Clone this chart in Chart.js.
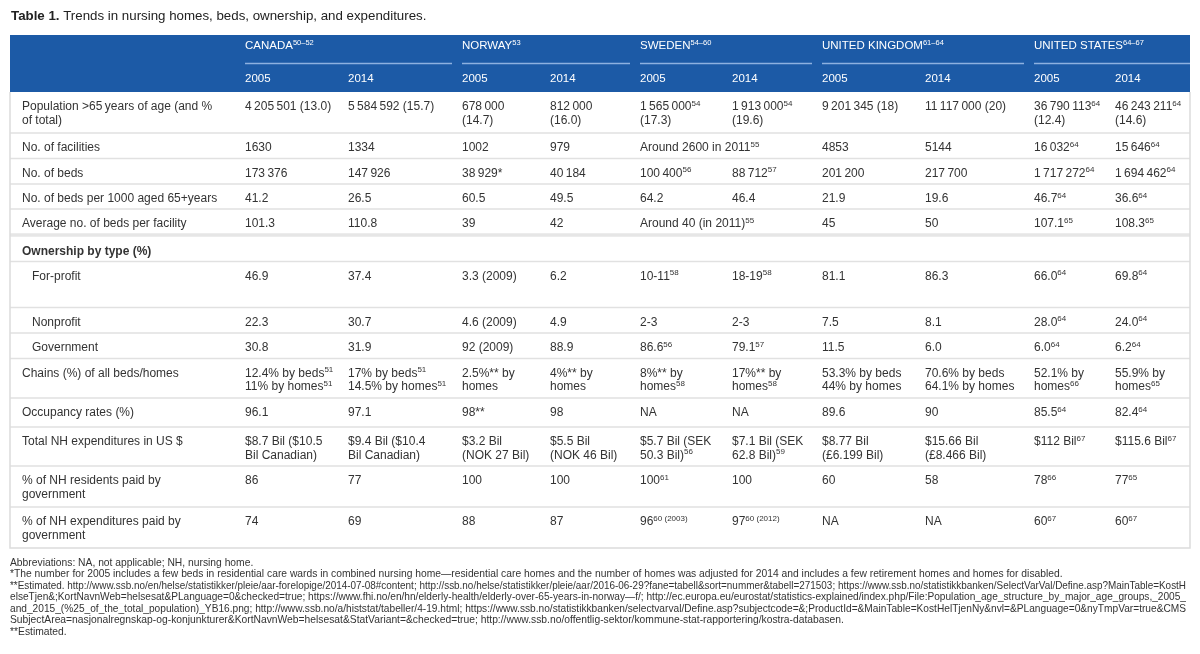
<!DOCTYPE html>
<html>
<head>
<meta charset="utf-8">
<script src="https://cdn.jsdelivr.net/npm/chart.js@4.4.1/dist/chart.umd.min.js"></script>
<style>
  html, body { margin: 0; padding: 0; background: #fff; }
  #wrap { width: 1200px; height: 654px; }
</style>
</head>
<body>
<div id="wrap"><canvas id="tbl" width="1200" height="654"></canvas></div>
<script>
// ---- data (read from the table) ----
// {..} marks a superscript reference
const title = ['Table 1.', 'Trends in nursing homes, beds, ownership, and expenditures.'];
const countries = ['CANADA{50–52}', 'NORWAY{53}', 'SWEDEN{54–60}', 'UNITED KINGDOM{61–64}', 'UNITED STATES{64–67}'];
const years = ['2005', '2014'];

const rowLabels = [
  'Population >65\u2009years of age (and %\nof total)',
  'No. of facilities',
  'No. of beds',
  'No. of beds per 1000 aged 65+years',
  'Average no. of beds per facility',
  'Ownership by type (%)',
  'For-profit',
  'Nonprofit',
  'Government',
  'Chains (%) of all beds/homes',
  'Occupancy rates (%)',
  'Total NH expenditures in US $',
  '% of NH residents paid by\ngovernment',
  '% of NH expenditures paid by\ngovernment'
];

const canada2005 = ['4\u2009205\u2009501 (13.0)', '1630', '173\u2009376', '41.2', '101.3', '', '46.9', '22.3', '30.8',
  '12.4% by beds{51}\n11% by homes{51}', '96.1', '$8.7 Bil ($10.5\nBil Canadian)', '86', '74'];
const canada2014 = ['5\u2009584\u2009592 (15.7)', '1334', '147\u2009926', '26.5', '110.8', '', '37.4', '30.7', '31.9',
  '17% by beds{51}\n14.5% by homes{51}', '97.1', '$9.4 Bil ($10.4\nBil Canadian)', '77', '69'];
const norway2005 = ['678\u2009000\n(14.7)', '1002', '38\u2009929*', '60.5', '39', '', '3.3 (2009)', '4.6 (2009)', '92 (2009)',
  '2.5%** by\nhomes', '98**', '$3.2 Bil\n(NOK 27 Bil)', '100', '88'];
const norway2014 = ['812\u2009000\n(16.0)', '979', '40\u2009184', '49.5', '42', '', '6.2', '4.9', '88.9',
  '4%** by\nhomes', '98', '$5.5 Bil\n(NOK 46 Bil)', '100', '87'];
const sweden2005 = ['1\u2009565\u2009000{54}\n(17.3)', 'Around 2600 in 2011{55}', '100\u2009400{56}', '64.2', 'Around 40 (in 2011){55}', '',
  '10-11{58}', '2-3', '86.6{56}', '8%** by\nhomes{58}', 'NA', '$5.7 Bil (SEK\n50.3 Bil){56}', '100{61}', '96{60 (2003)}'];
const sweden2014 = ['1\u2009913\u2009000{54}\n(19.6)', '', '88\u2009712{57}', '46.4', '', '',
  '18-19{58}', '2-3', '79.1{57}', '17%** by\nhomes{58}', 'NA', '$7.1 Bil (SEK\n62.8 Bil){59}', '100', '97{60 (2012)}'];
const uk2005 = ['9\u2009201\u2009345 (18)', '4853', '201\u2009200', '21.9', '45', '', '81.1', '7.5', '11.5',
  '53.3% by beds\n44% by homes', '89.6', '$8.77 Bil\n(£6.199 Bil)', '60', 'NA'];
const uk2014 = ['11\u2009117\u2009000 (20)', '5144', '217\u2009700', '19.6', '50', '', '86.3', '8.1', '6.0',
  '70.6% by beds\n64.1% by homes', '90', '$15.66 Bil\n(£8.466 Bil)', '58', 'NA'];
const us2005 = ['36\u2009790\u2009113{64}\n(12.4)', '16\u2009032{64}', '1\u2009717\u2009272{64}', '46.7{64}', '107.1{65}', '',
  '66.0{64}', '28.0{64}', '6.0{64}', '52.1% by\nhomes{66}', '85.5{64}', '$112 Bil{67}', '78{66}', '60{67}'];
const us2014 = ['46\u2009243\u2009211{64}\n(14.6)', '15\u2009646{64}', '1\u2009694\u2009462{64}', '36.6{64}', '108.3{65}', '',
  '69.8{64}', '24.0{64}', '6.2{64}', '55.9% by\nhomes{65}', '82.4{64}', '$115.6 Bil{67}', '77{65}', '60{67}'];

const columns = [canada2005, canada2014, norway2005, norway2014, sweden2005, sweden2014, uk2005, uk2014, us2005, us2014];

const footnotes = [
  'Abbreviations: NA, not applicable; NH, nursing home.',
  '*The number for 2005 includes a few beds in residential care wards in combined nursing home—residential care homes and the number of homes was adjusted for 2014 and includes a few retirement homes and homes for disabled.',
  '**Estimated. http://www.ssb.no/en/helse/statistikker/pleie/aar-forelopige/2014-07-08#content; http://ssb.no/helse/statistikker/pleie/aar/2016-06-29?fane=tabell&sort=nummer&tabell=271503; https://www.ssb.no/statistikkbanken/SelectVarVal/Define.asp?MainTable=KostH',
  'elseTjen&;KortNavnWeb=helsesat&PLanguage=0&checked=true; https://www.fhi.no/en/hn/elderly-health/elderly-over-65-years-in-norway—f/; http://ec.europa.eu/eurostat/statistics-explained/index.php/File:Population_age_structure_by_major_age_groups,_2005_',
  'and_2015_(%25_of_the_total_population)_YB16.png; http://www.ssb.no/a/histstat/tabeller/4-19.html; https://www.ssb.no/statistikkbanken/selectvarval/Define.asp?subjectcode=&;ProductId=&MainTable=KostHelTjenNy&nvl=&PLanguage=0&nyTmpVar=true&CMS',
  'SubjectArea=nasjonalregnskap-og-konjunkturer&KortNavnWeb=helsesat&StatVariant=&checked=true; http://www.ssb.no/offentlig-sektor/kommune-stat-rapportering/kostra-databasen.',
  '**Estimated.'
];

// ---- layout (in scale units, 1 unit ~ 1px) ----
const FONT = '"Liberation Sans", Arial, Helvetica, sans-serif';
const tableLeft = 10, tableRight = 1190;
const headTop = 35, headBottom = 92, countryY = 45, ruleY = 63.5, yearY = 77.5;
const labelX = 22, subLabelX = 32;
const colX = [245, 348, 462, 550, 640, 732, 822, 925, 1034, 1115];
const rowTops = [92, 133, 158.5, 184, 209, 237, 261.5, 307.5, 333, 358.5, 398, 427, 466, 507];
const thickRule = 235;
const tableBottom = 548;
const subRows = [6, 7, 8], boldRows = [5];
const footTop = 562, footStep = 11.5;

// draw text with {sup} parts, y = middle of the line
function richText(ctx, str, x, y, size, color, weight, supSize) {
  const parts = str.split(/(\{[^}]*\})/);
  let cx = x;
  ctx.fillStyle = color;
  ctx.textBaseline = 'alphabetic';
  const base = y + size * 0.36;
  parts.forEach(p => {
    if (!p) return;
    if (p[0] === '{') {
      const t = p.slice(1, -1);
      ctx.font = `${weight} ${supSize}px ${FONT}`;
      ctx.fillText(t, cx, base - size * 0.38);
      cx += ctx.measureText(t).width;
    } else {
      ctx.font = `${weight} ${size}px ${FONT}`;
      ctx.fillText(p, cx, base);
      cx += ctx.measureText(p).width;
    }
  });
}

const tablePlugin = {
  id: 'tablePlugin',
  afterDraw(chart) {
    const ctx = chart.ctx;
    const X = v => chart.scales.x.getPixelForValue(v);
    const Y = v => chart.scales.y.getPixelForValue(v);
    ctx.save();

    // title
    ctx.textBaseline = 'alphabetic';
    ctx.fillStyle = '#222';
    ctx.font = `bold 13.3px ${FONT}`;
    ctx.fillText(title[0], X(11), Y(20));
    const w0 = ctx.measureText(title[0] + ' ').width;
    ctx.font = `13.3px ${FONT}`;
    ctx.fillText(title[1], X(11) + w0, Y(20));

    // header band
    ctx.fillStyle = '#1c5aa6';
    ctx.fillRect(X(tableLeft), Y(headTop), X(tableRight) - X(tableLeft), Y(headBottom) - Y(headTop));
    countries.forEach((c, i) => {
      richText(ctx, c, X(colX[i * 2]), Y(countryY), 11.5, '#fff', 'normal', 7.5);
      const end = i < countries.length - 1 ? colX[i * 2 + 2] - 10 : tableRight;
      ctx.strokeStyle = '#8db1e0';
      ctx.lineWidth = 1.5;
      ctx.beginPath();
      ctx.moveTo(X(colX[i * 2]), Y(ruleY));
      ctx.lineTo(X(end), Y(ruleY));
      ctx.stroke();
      years.forEach((yr, j) => richText(ctx, yr, X(colX[i * 2 + j]), Y(yearY), 11.5, '#fff', 'normal', 7.5));
    });

    // row separators
    ctx.strokeStyle = '#e1e1e1';
    ctx.lineWidth = 1.5;
    rowTops.forEach((t, r) => {
      if (r === 0 || r === 5) return;
      ctx.beginPath();
      ctx.moveTo(X(tableLeft), Y(t));
      ctx.lineTo(X(tableRight), Y(t));
      ctx.stroke();
    });
    ctx.lineWidth = 3.5;
    ctx.strokeStyle = '#e6e6e6';
    ctx.beginPath();
    ctx.moveTo(X(tableLeft), Y(thickRule));
    ctx.lineTo(X(tableRight), Y(thickRule));
    ctx.stroke();

    // outer border
    ctx.lineWidth = 1.5;
    ctx.strokeStyle = '#dcdcdc';
    ctx.beginPath();
    ctx.moveTo(X(tableLeft), Y(headBottom));
    ctx.lineTo(X(tableLeft), Y(tableBottom));
    ctx.lineTo(X(tableRight), Y(tableBottom));
    ctx.lineTo(X(tableRight), Y(headBottom));
    ctx.stroke();

    // body cells
    const lineH = 13.8, firstOff = 13.8;
    rowLabels.forEach((lab, r) => {
      const top = rowTops[r] + firstOff;
      const lx = subRows.includes(r) ? subLabelX : labelX;
      const wt = boldRows.includes(r) ? 'bold' : 'normal';
      lab.split('\n').forEach((ln, k) => richText(ctx, ln, X(lx), Y(top + k * lineH), 12, '#333', wt, 8));
      columns.forEach((col, c) => {
        const v = col[r];
        if (!v) return;
        v.split('\n').forEach((ln, k) => richText(ctx, ln, X(colX[c]), Y(top + k * lineH), 12, '#333', 'normal', 8));
      });
    });

    // footnotes
    footnotes.forEach((f, i) => {
      ctx.font = `10.3px ${FONT}`;
      ctx.fillStyle = '#333';
      const maxW = X(tableRight) - X(10) - 4;
      ctx.fillText(f, X(10), Y(footTop + i * footStep + 3.5), maxW);
    });
    ctx.restore();
  }
};

new Chart(document.getElementById('tbl'), {
  type: 'scatter',
  data: { datasets: [{ data: [], showLine: false }] },
  options: {
    responsive: false,
    animation: false,
    devicePixelRatio: 1,
    events: [],
    layout: { padding: 0 },
    plugins: { legend: { display: false }, tooltip: { enabled: false } },
    scales: {
      x: { type: 'linear', min: 0, max: 1200, display: false },
      y: { type: 'linear', min: 0, max: 654, reverse: true, display: false }
    }
  },
  plugins: [tablePlugin]
});
</script>
</body>
</html>
